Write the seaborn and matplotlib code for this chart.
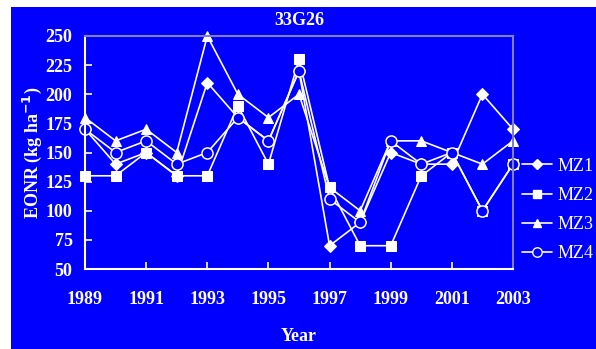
import matplotlib
matplotlib.use("Agg")
import matplotlib.pyplot as plt
from matplotlib.patches import Rectangle
import seaborn as sns
import pandas as pd

years = list(range(1989, 2004))
mz1 = [170, 140, 150, 130, 210, 180, 160, 220, 70, 90, 150, 140, 140, 200, 170]
mz2 = [130, 130, 150, 130, 130, 190, 140, 230, 120, 70, 70, 130, 150, 100, 140]
mz3 = [180, 160, 170, 150, 250, 200, 180, 200, 120, 100, 160, 160, 150, 140, 160]
mz4 = [170, 150, 160, 140, 150, 180, 160, 220, 110, 90, 160, 140, 150, 100, 140]
zones = ["MZ1", "MZ2", "MZ3", "MZ4"]
x_ticks = [1989, 1991, 1993, 1995, 1997, 1999, 2001, 2003]
y_ticks = [50, 75, 100, 125, 150, 175, 200, 225, 250]

df = pd.DataFrame({
    "Year": years * 4,
    "EONR": mz1 + mz2 + mz3 + mz4,
    "Zone": sum([[z] * len(years) for z in zones], []),
})

BLUE = "#0000FF"
sns.set_theme(style="ticks")
plt.rcParams["font.family"] = ["Liberation Serif", "DejaVu Serif"]

fig = plt.figure(figsize=(5.96, 3.49), dpi=100, facecolor="white")
fig.patches.append(Rectangle((11 / 596, 0), 1 - 11 / 596, 1 - 7 / 349,
                             transform=fig.transFigure, facecolor=BLUE,
                             edgecolor="none", zorder=-10))
ax = fig.add_axes([85 / 596, 1 - 269 / 349, (513 - 85) / 596, (269 - 36) / 349])
ax.set_facecolor(BLUE)

markers = {"MZ1": "D", "MZ2": "s", "MZ3": "^", "MZ4": "o"}
sizes = {"MZ1": 6, "MZ2": 6.5, "MZ3": 7.5, "MZ4": 8}
palette = {z: "white" for z in zones}
sns.lineplot(data=df, x="Year", y="EONR", hue="Zone", style="Zone",
             markers=markers, dashes=False, palette=palette, ax=ax,
             linewidth=1.2, markersize=7, legend=False)

for line, z in zip(ax.get_lines(), zones):
    line.set_markersize(sizes[z])
    line.set_markeredgecolor("white")
    line.set_clip_on(False)
    if z == "MZ4":
        line.set_markerfacecolor(BLUE)
        line.set_markeredgewidth(1.1)
    else:
        line.set_markerfacecolor("white")

ax.set_xlim(1989, 2003)
ax.set_ylim(50, 250)
ax.set_xticks(x_ticks)
ax.set_yticks(y_ticks)
ax.tick_params(direction="in", colors="white", length=5, width=1.2,
               labelsize=13)
ax.tick_params(axis="x", pad=16)
ax.tick_params(axis="y", pad=9)
for lab in ax.get_xticklabels() + ax.get_yticklabels():
    lab.set_fontweight("bold")
    lab.set_color("white")

for side in ["left", "bottom"]:
    ax.spines[side].set_color("white")
    ax.spines[side].set_linewidth(1.5)
for side in ["top", "right"]:
    ax.spines[side].set_color("#8080C0")
    ax.spines[side].set_linewidth(1.5)

ax.set_xlabel("Year", color="white", fontsize=13, fontweight="bold", labelpad=14)
ax.set_ylabel("EONR (kg ha$^{\\mathbf{-1}}$)", color="white", fontsize=13,
              fontweight="bold", labelpad=1)
ax.set_title("33G26", color="white", fontsize=13, fontweight="bold", pad=8)

handles = [plt.Line2D([], [], color="white", lw=1.2, marker=markers[z],
                      markersize=sizes[z] * 0.85, markeredgecolor="white",
                      markerfacecolor=(BLUE if z == "MZ4" else "white"))
           for z in zones]
leg = ax.legend(handles, zones, loc="center left", bbox_to_anchor=(1.02, 0.253),
                frameon=False, fontsize=13, labelcolor="white",
                handlelength=1.7, handletextpad=0.3, labelspacing=0.68,
                borderaxespad=0, borderpad=0)

fig.savefig("out.png", dpi=100, facecolor="white")
